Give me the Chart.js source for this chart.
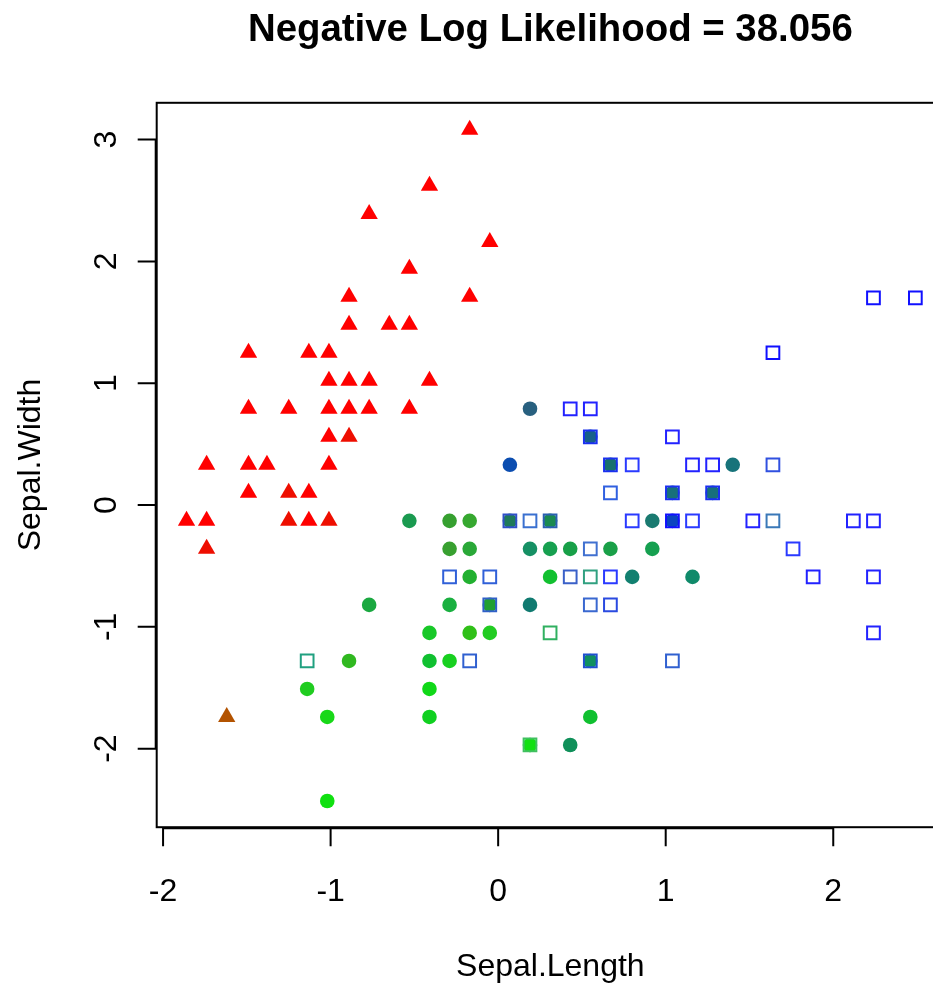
<!DOCTYPE html>
<html>
<head>
<meta charset="utf-8">
<title>Negative Log Likelihood</title>
<script src="https://cdn.jsdelivr.net/npm/chart.js@4.4.0/dist/chart.umd.min.js"></script>
<style>
  html, body { margin: 0; padding: 0; background: #fff; overflow: hidden; }
  #wrap { width: 933px; height: 985px; overflow: hidden; }
</style>
</head>
<body>
<div id="wrap"><canvas id="irisChart" width="960" height="985"></canvas></div>
<script>
// standardized iris measurements, one group per species (shape), colour = cluster mix
const setosaX = [-0.17, -0.41, -0.77, -0.05, -0.53, -0.89, -0.17, -0.89, -0.65, -0.53,
  -1.49, -1.13, -1.01, -1.01, -0.89, -0.77, -0.41, -1.49, -1.25, -1.01,
  -0.89, -0.77, -0.53, -1.01, -0.89, -1.74, -1.38, -1.49, -1.01, -1.49,
  -1.25, -1.13, -1.86, -1.74, -1.25, -1.13, -1.01, -1.74, -1.62];
const setosaY = [3.08, 2.62, 2.39, 2.16, 1.94, 1.71, 1.71, 1.48, 1.48, 1.48,
  1.25, 1.25, 1.25, 1.02, 1.02, 1.02, 1.02, 0.79, 0.79, 0.79,
  0.79, 0.79, 0.79, 0.56, 0.56, 0.33, 0.33, 0.33, 0.33, 0.10,
  0.10, 0.10, -0.13, -0.13, -0.13, -0.13, -0.13, -0.36, -1.74];
const setosaColors = ["#ff0000", "#ff0000", "#ff0000", "#ff0000", "#ff0000", "#ff0000", "#ff0000", "#ff0000", "#ff0000", "#ff0000",
  "#ff0000", "#ff0000", "#ff0000", "#ff0000", "#ff0000", "#ff0000", "#ff0000", "#ff0000", "#ff0000", "#ff0000",
  "#ff0000", "#ff0000", "#ff0000", "#ff0000", "#ee0e00", "#ff0000", "#ff0000", "#ff0000", "#ff0000", "#ff0000",
  "#ee0e00", "#ff0000", "#ff0000", "#ff0000", "#ee0e00", "#ff0000", "#ee0e00", "#ee0e00", "#b35300"];

const versicolorX = [0.19, 0.07, -0.53, -0.29, -0.17, 0.92, -0.29, -0.17, 0.19, 0.31,
  0.43, 0.67, 0.92, -0.17, 0.31, 0.80, 1.16, 1.40, -0.29, 0.19,
  -0.77, -0.41, -0.17, -0.05, -0.41, -0.29, -0.89, -1.14, -0.41, -0.41,
  0.55, -1.02, 0.43, -1.02, 0.55, 0.67, 1.04, 1.28, 0.07, 0.31,
  1.04, -0.05, 0.55, 0.19];
const versicolorY = [0.79, 0.33, -0.13, -0.13, -0.13, -0.13, -0.36, -0.36, -0.36, -0.36,
  -0.36, -0.36, -0.36, -0.59, -0.59, -0.59, -0.59, 0.33, -0.82, -0.82,
  -0.82, -1.05, -1.05, -1.05, -1.28, -1.28, -1.28, -1.51, -1.51, -1.74,
  -1.74, -1.74, -1.97, -2.43, 0.56, 0.33, 0.10, 0.10, -0.13, -0.13,
  -0.13, -0.82, -1.28, -1.97];
const versicolorColors = ["#28607f", "#0b4db0", "#1a9a50", "#36a030", "#36a830", "#1a7a70", "#38a030", "#2aa838", "#169064", "#17a050",
  "#18a048", "#1aa048", "#16a050", "#22b030", "#12c030", "#128070", "#108a6a", "#17737a", "#1ab040", "#107a70",
  "#1aa840", "#18c828", "#30c018", "#22cc22", "#10c030", "#18d020", "#30b820", "#20cc20", "#10d818", "#10d020",
  "#10c030", "#18d818", "#10905a", "#10e010", "#17608a", "#19706e", "#17707a", "#17707a", "#1f7a5a", "#1a8a50",
  "#0a44c0", "#20a030", "#109060", "#10e010"];

const virginicaX = [2.24, 2.49, 1.64, 0.43, 0.55, 0.55, 1.04, 0.67, 0.80, 1.16,
  1.28, 1.64, 0.67, 1.04, 1.28, 0.07, 0.19, 0.31, 0.80, 1.04,
  1.16, 1.52, 1.64, 2.12, 2.24, 0.55, 1.76, -0.29, -0.05, 0.43,
  0.55, 0.67, 1.88, 2.24, -0.05, 0.55, 0.67, 0.31, 2.24, -1.14,
  -0.17, 0.55, 1.04, 0.19];
const virginicaY = [1.70, 1.70, 1.25, 0.79, 0.79, 0.56, 0.56, 0.33, 0.33, 0.33,
  0.33, 0.33, 0.10, 0.10, 0.10, -0.13, -0.13, -0.13, -0.13, -0.13,
  -0.13, -0.13, -0.13, -0.13, -0.13, -0.36, -0.36, -0.59, -0.59, -0.59,
  -0.59, -0.59, -0.59, -0.59, -0.82, -0.82, -0.82, -1.05, -1.05, -1.28,
  -1.28, -1.28, -1.28, -1.97];
const virginicaColors = ["#1010ff", "#1010ff", "#1010ff", "#2222ff", "#2222ff", "#1a30f0", "#2222ff", "#1a30f0", "#2a3aff", "#2222ff",
  "#2222ff", "#3050e0", "#3060e0", "#1a30f0", "#1a30f0", "#3050c8", "#3a70d0", "#2a60b0", "#2a3aff", "#1010ff",
  "#2a3aff", "#2222ff", "#3a78b8", "#2222ff", "#2222ff", "#4070d0", "#2a3aff", "#3060d8", "#3060d8", "#3a60c8",
  "#30a080", "#2a3aff", "#2222ff", "#2222ff", "#3060c8", "#3a68d0", "#2a4ae0", "#30b060", "#2222ff", "#20a080",
  "#3060d0", "#2050d0", "#3060d0", "#40c060"];

const xTicks = [-2, -1, 0, 1, 2];
const yTicks = [-2, -1, 0, 1, 2, 3];
const titleText = "Negative Log Likelihood = 38.056";
const xTitle = "Sepal.Length";
const yTitle = "Sepal.Width";

function points(xs, ys) {
  return xs.map((x, i) => ({ x: x, y: ys[i] }));
}

const FONT = "'Liberation Sans', Arial, sans-serif";

// base-graphics style frame: box, ticks only from first to last tick, rotated y labels
const baseAxes = {
  id: "baseAxes",
  afterDraw(chart) {
    const ctx = chart.ctx;
    const area = chart.chartArea;
    const xs = chart.scales.x;
    const ys = chart.scales.y;
    const tick = 19;
    ctx.save();
    ctx.strokeStyle = "#000";
    ctx.lineWidth = 2;
    ctx.strokeRect(area.left, area.top, area.right - area.left, area.bottom - area.top);

    // x axis
    ctx.beginPath();
    ctx.moveTo(xs.getPixelForValue(xTicks[0]), area.bottom + 1);
    ctx.lineTo(xs.getPixelForValue(xTicks[xTicks.length - 1]), area.bottom + 1);
    xTicks.forEach(v => {
      const px = xs.getPixelForValue(v);
      ctx.moveTo(px, area.bottom);
      ctx.lineTo(px, area.bottom + tick);
    });
    // y axis
    ctx.moveTo(area.left - 1, ys.getPixelForValue(yTicks[0]));
    ctx.lineTo(area.left - 1, ys.getPixelForValue(yTicks[yTicks.length - 1]));
    yTicks.forEach(v => {
      const py = ys.getPixelForValue(v);
      ctx.moveTo(area.left, py);
      ctx.lineTo(area.left - tick, py);
    });
    ctx.stroke();

    ctx.fillStyle = "#000";
    ctx.font = "32px " + FONT;
    ctx.textAlign = "center";
    ctx.textBaseline = "alphabetic";
    xTicks.forEach(v => {
      ctx.fillText(String(v), xs.getPixelForValue(v), 901);
    });
    yTicks.forEach(v => {
      ctx.save();
      ctx.translate(116, ys.getPixelForValue(v));
      ctx.rotate(-Math.PI / 2);
      ctx.fillText(String(v), 0, 0);
      ctx.restore();
    });

    const cx = (area.left + area.right) / 2;
    const cy = (area.top + area.bottom) / 2;
    ctx.fillText(xTitle, cx, 976);
    ctx.save();
    ctx.translate(40, cy);
    ctx.rotate(-Math.PI / 2);
    ctx.fillText(yTitle, 0, 0);
    ctx.restore();

    ctx.font = "bold 38.4px " + FONT;
    ctx.fillText(titleText, cx, 41);
    ctx.restore();
  }
};

new Chart(document.getElementById("irisChart").getContext("2d"), {
  type: "scatter",
  data: {
    datasets: [
      {
        label: "virginica",
        data: points(virginicaX, virginicaY),
        pointStyle: "rect",
        pointRadius: 9,
        backgroundColor: "rgba(0,0,0,0)",
        borderColor: virginicaColors,
        borderWidth: 2,
      },
      {
        label: "versicolor",
        data: points(versicolorX, versicolorY),
        pointStyle: "circle",
        pointRadius: 7.3,
        backgroundColor: versicolorColors,
        borderWidth: 0,
      },
      {
        label: "setosa",
        data: points(setosaX, setosaY),
        pointStyle: "triangle",
        pointRadius: 10,
        backgroundColor: setosaColors,
        borderWidth: 0,
      },
    ],
  },
  options: {
    responsive: false,
    animation: false,
    devicePixelRatio: 1,
    layout: { padding: { left: 156.7, top: 102.8, right: 16, bottom: 157.8 } },
    plugins: { legend: { display: false }, tooltip: { enabled: false }, title: { display: false } },
    scales: {
      x: { type: "linear", min: -2.038, max: 2.661, display: false },
      y: { type: "linear", min: -2.645, max: 3.302, display: false },
    },
  },
  plugins: [baseAxes],
});
</script>
</body>
</html>
